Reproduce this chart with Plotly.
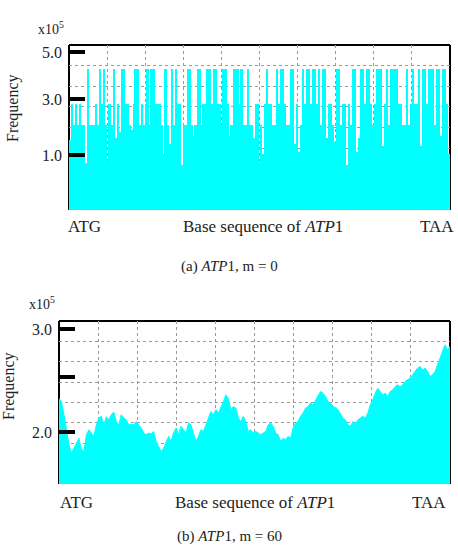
import plotly.graph_objects as go

# ---------------- data ----------------
H, M, L = 6.85, 5.15, 4.1  # recurring plateau levels (grid units) in panel (a)

freq_m0 = [
    3.4, M, L, M, L, M, L, L, 2.3, H, L, L, L, M, L, H, M, H, L, 2.4, M, L, H, 3.5, M, 3.8, H, H, M, M, L, 3.9, M, H, H, L, M, L,
    M, H, L, H, H, M, M, M, L, 2.7, H, L, 3.2, H, L, H, M, M, 2.2, L, L, H, H, L, 3.6, L, H, H, L, M, M, H, H, M, H, H, M, M, L,
    H, H, M, 3.6, L, H, H, H, M, H, L, L, H, L, L, 3.5, M, M, 2.3, L, 2.7, M, H, M, M, L, L, H, M, H, H, M, L, L, H, H, 3.2, M, 2.8,
    L, H, M, H, H, M, H, H, M, H, L, H, H, 3.5, M, M, L, 3.3, H, H, L, M, M, 2.2, M, L, H, H, 2.8, 3.5, H, H, M, H, H, M, L, M,
    H, H, H, 3.1, M, H, L, H, H, H, H, M, M, L, L, H, L, M, H, M, M, H, 3.1, H, H, M, H, H, H, L, H, H, 3.6, H, H, M, 2.7,
]

freq_m60 = [
    4.2, 4.05, 3.4, 2.75, 1.93, 1.52, 1.76, 1.93, 2.25, 1.68, 1.6, 2.42, 2.66, 2.5, 2.34, 2.9, 3.24, 3.32, 2.9, 3.3,
    3.15, 3.4, 3.53, 3.07, 2.9, 3.4, 3.24, 3.15, 2.9, 2.94, 2.9, 3.07, 2.9, 2.75, 2.5, 2.42, 2.5, 2.45, 2.58, 2.09,
    1.85, 1.6, 1.76, 2.09, 2.34, 2.09, 2.5, 2.75, 2.42, 2.83, 2.66, 2.5,
    3.0, 2.9, 2.5, 2.09, 2.34, 2.66, 2.58, 2.9, 3.32, 3.56, 3.4, 3.64, 3.48, 3.73, 4.05, 4.38, 4.2, 3.64, 3.8, 3.73,
    3.24, 3.07, 3.32, 3.07, 2.58, 2.66, 2.5, 2.58, 2.5, 2.42, 2.5, 2.58, 2.9, 3.0, 2.83, 2.5, 2.42, 2.09, 2.25, 2.17,
    2.34, 2.25, 2.75, 3.0, 3.07, 3.32, 3.48, 3.73, 3.8, 3.97, 3.89, 4.13,
    4.38, 4.54, 4.46, 4.3, 4.05, 3.97, 3.8, 3.76, 3.64, 3.4, 3.24, 3.15, 2.9, 2.83, 3.07, 2.94, 3.15, 3.24, 3.32, 3.24,
    3.48, 3.89, 4.13, 4.46, 4.7, 4.54, 4.38, 4.46, 4.3, 4.54, 4.62, 4.78, 4.87, 4.78, 4.87, 5.03, 5.11, 5.2, 5.36, 5.52,
    5.69, 5.77, 5.6, 5.69, 5.52, 5.28, 5.36, 5.52, 5.85, 6.18, 6.5, 6.83, 6.58, 6.75,
]

ticks_a_vals = [2.65, 5.37, 7.65]
ticks_a_text = ["1.0", "3.0", "5.0"]
ticks_b_vals = [2.55, 5.25, 7.6]
ticks_b_text = ["2.0", " ", "3.0"]

# ---------------- figure ----------------
W, Hpx = 458, 550
CYAN = "#00FFFF"
SERIF = "Liberation Serif"
TXT = "#222222"
GRID = "#9a9a9a"

def px(xp):
    return xp / W

def py(yp):
    return 1 - yp / Hpx

fig = go.Figure()
fig.add_trace(go.Bar(
    x=list(range(len(freq_m0))), y=freq_m0,
    marker=dict(color=CYAN, line=dict(width=0)),
    xaxis="x", yaxis="y", hoverinfo="skip",
))
fig.add_trace(go.Scatter(
    x=list(range(len(freq_m60))), y=freq_m60,
    mode="lines", fill="tozeroy", fillcolor=CYAN,
    line=dict(color=CYAN, width=1),
    xaxis="x2", yaxis="y2", hoverinfo="skip",
))

grid = dict(showgrid=True, gridcolor=GRID, gridwidth=1, griddash="dot")

def xaxis(domain, anchor, n, start):
    return dict(domain=domain, anchor=anchor, range=[start, start + n],
                tick0=start, dtick=n / 10, showticklabels=False, ticks="",
                zeroline=False, showline=False, fixedrange=True, **grid)

def yaxis(domain, anchor, vals, text):
    return dict(domain=domain, anchor=anchor, range=[0, 8],
                tickmode="array", tickvals=vals, ticktext=text,
                ticks="inside", ticklen=16, tickwidth=4, tickcolor="black",
                tickfont=dict(family=SERIF, size=16, color=TXT),
                ticklabelstandoff=6,
                showgrid=False, zeroline=False, showline=False,
                layer="above traces",
                minor=dict(dtick=1, tick0=0, ticks="", showgrid=True,
                           gridcolor=GRID, gridwidth=1, griddash="dot"))

n0 = len(freq_m0)
n1 = len(freq_m60) - 1

fig.update_layout(
    width=W, height=Hpx, margin=dict(l=0, r=0, t=0, b=0),
    paper_bgcolor="white", plot_bgcolor="white", showlegend=False,
    bargap=0,
    xaxis=xaxis([px(69), px(450)], "y", n0, -0.5),
    yaxis=yaxis([py(210), py(45)], "x", ticks_a_vals, ticks_a_text),
    xaxis2=xaxis([px(59), px(450)], "y2", n1, 0),
    yaxis2=yaxis([py(484), py(321)], "x2", ticks_b_vals, ticks_b_text),
)

shapes = []
for xr, yr in (("x domain", "y domain"), ("x2 domain", "y2 domain")):
    for (x0, y0, x1, y1) in ((0, 0, 0, 1), (0, 1, 1, 1), (1, 0, 1, 1)):
        shapes.append(dict(type="line", xref=xr, yref=yr, x0=x0, y0=y0, x1=x1, y1=y1,
                           line=dict(color="black", width=2), layer="below"))
fig.update_layout(shapes=shapes)

def ann(x, y, text, size=16, angle=0):
    return dict(x=px(x), y=py(y), xref="paper", yref="paper", text=text,
                showarrow=False, xanchor="center", yanchor="middle", textangle=angle,
                font=dict(family=SERIF, size=size, color=TXT))

fig.update_layout(annotations=[
    ann(51, 28, "x10<sup>5</sup>", 14),
    ann(13, 108, "Frequency", 16, -90),
    ann(84.5, 226, "ATG", 17),
    ann(263, 226, "Base sequence of <i>ATP</i>1", 17),
    ann(437, 226, "TAA", 17),
    ann(229, 266, "(a) <i>ATP</i>1, m = 0", 15),
    ann(42, 303, "x10<sup>5</sup>", 14),
    ann(9, 386, "Frequency", 16, -90),
    ann(76, 502, "ATG", 17),
    ann(255, 502, "Base sequence of <i>ATP</i>1", 17),
    ann(429, 502, "TAA", 17),
    ann(230, 536, "(b) <i>ATP</i>1, m = 60", 15),
])

fig.write_html("out.html")
